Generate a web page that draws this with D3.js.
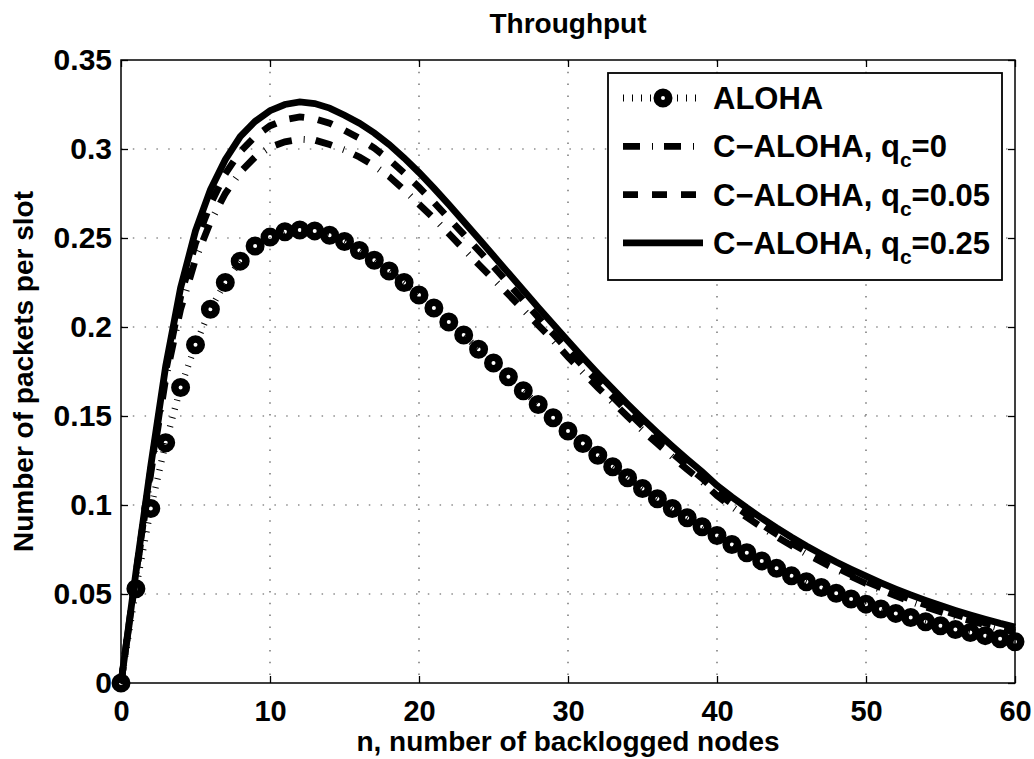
<!DOCTYPE html>
<html>
<head>
<meta charset="utf-8">
<script src="https://cdn.jsdelivr.net/npm/d3@7/dist/d3.min.js"></script>
<style>
  body { margin: 0; background: #fff; }
  text { font-family: "Liberation Sans", Arial, sans-serif; font-weight: bold; fill: #000; }
</style>
</head>
<body>
<div id="chart"></div>
<script>
// n = number of backlogged nodes (0..60)
var nodes = d3.range(0, 61);

// throughput
var aloha = [0, 0.053, 0.098, 0.135, 0.166, 0.190, 0.210, 0.225, 0.237, 0.2455, 0.2505,
  0.2535, 0.2545, 0.254, 0.2515, 0.248, 0.243, 0.2375, 0.2315, 0.225, 0.218,
  0.2107, 0.2028, 0.1955, 0.1875, 0.1798, 0.172, 0.1642, 0.1565, 0.149, 0.1416,
  0.1346, 0.128, 0.1215, 0.1153, 0.1093, 0.1035, 0.098, 0.0928, 0.0878, 0.0829,
  0.0778, 0.0732, 0.0686, 0.0644, 0.0602, 0.0569, 0.0537, 0.0504, 0.0472, 0.0443,
  0.0416, 0.0391, 0.0368, 0.0344, 0.0322, 0.0301, 0.0284, 0.0266, 0.0248, 0.0232];

var caloha0 = [0, 0.060, 0.118, 0.171, 0.210, 0.238, 0.259, 0.275, 0.287, 0.2955, 0.301,
  0.304, 0.3055, 0.305, 0.3025, 0.2995, 0.2955, 0.2905, 0.2845, 0.277, 0.269,
  0.261, 0.2525, 0.2437, 0.2352, 0.2268, 0.2183, 0.2097, 0.2011, 0.1925, 0.1832,
  0.1745, 0.166, 0.1578, 0.1497, 0.1419, 0.1344, 0.1271, 0.120, 0.1132, 0.1052,
  0.099, 0.0931, 0.0875, 0.0822, 0.0772, 0.0725, 0.0681, 0.0638, 0.0598, 0.0559,
  0.0524, 0.049, 0.0458, 0.0428, 0.040, 0.0374, 0.035, 0.0327, 0.0305, 0.0285];

var caloha005 = [0, 0.061, 0.120, 0.175, 0.217, 0.247, 0.269, 0.286, 0.2985, 0.307, 0.313,
  0.3165, 0.318, 0.317, 0.3145, 0.3105, 0.306, 0.3005, 0.294, 0.2865, 0.2785,
  0.270, 0.261, 0.252, 0.243, 0.234, 0.2245, 0.215, 0.2055, 0.1962, 0.187,
  0.178, 0.1692, 0.1607, 0.1524, 0.1444, 0.1366, 0.1291, 0.1219, 0.115, 0.107,
  0.1007, 0.0947, 0.089, 0.0836, 0.0785, 0.0737, 0.0692, 0.0649, 0.0609, 0.0571,
  0.0535, 0.0501, 0.0469, 0.0439, 0.0411, 0.0385, 0.036, 0.0337, 0.0315, 0.0295];

var caloha025 = [0, 0.062, 0.122, 0.178, 0.222, 0.254, 0.277, 0.294, 0.307, 0.3155, 0.3215,
  0.325, 0.3265, 0.3255, 0.323, 0.319, 0.3145, 0.309, 0.3025, 0.295, 0.2868,
  0.278, 0.2688, 0.2593, 0.2497, 0.240, 0.2303, 0.2206, 0.211, 0.2015, 0.1921,
  0.1829, 0.1739, 0.1652, 0.1567, 0.1485, 0.1406, 0.133, 0.1257, 0.1187, 0.111,
  0.1045, 0.0984, 0.0926, 0.0871, 0.0819, 0.077, 0.0724, 0.068, 0.0639, 0.060,
  0.0563, 0.0528, 0.0495, 0.0464, 0.0435, 0.0408, 0.0382, 0.0358, 0.0335, 0.0314];

var xTicks = [0, 10, 20, 30, 40, 50, 60];
var yTicks = [0, 0.05, 0.1, 0.15, 0.2, 0.25, 0.3, 0.35];
var legendLabels = [
  { main: "ALOHA", sub: null, tail: null },
  { main: "C\u2212ALOHA, q", sub: "c", tail: "=0" },
  { main: "C\u2212ALOHA, q", sub: "c", tail: "=0.05" },
  { main: "C\u2212ALOHA, q", sub: "c", tail: "=0.25" }
];

var margin = { top: 60, right: 19, bottom: 76, left: 121 };
var totalW = 1034, totalH = 759;
var width = totalW - margin.left - margin.right;
var height = totalH - margin.top - margin.bottom;

var svg = d3.select("#chart")
  .append("svg")
  .attr("width", totalW)
  .attr("height", totalH);

var g = svg.append("g")
  .attr("transform", "translate(" + margin.left + "," + margin.top + ")");

var xScale = d3.scaleLinear().domain([0, 60]).range([0, width]);
var yScale = d3.scaleLinear().domain([0, 0.35]).range([height, 0]);

// dotted grid
g.append("g").selectAll("line.vgrid")
  .data(xTicks.slice(1, -1))
  .enter().append("line")
  .attr("x1", function(d) { return xScale(d); })
  .attr("x2", function(d) { return xScale(d); })
  .attr("y1", 0).attr("y2", height)
  .attr("stroke", "#555").attr("stroke-width", 1.2)
  .attr("stroke-dasharray", "1.5,10.3");

g.append("g").selectAll("line.hgrid")
  .data(yTicks.slice(1, -1))
  .enter().append("line")
  .attr("y1", function(d) { return yScale(d); })
  .attr("y2", function(d) { return yScale(d); })
  .attr("x1", 0).attr("x2", width)
  .attr("stroke", "#555").attr("stroke-width", 1.2)
  .attr("stroke-dasharray", "1.5,10.3");

// axes, ticks pointing inward
var fmtY = function(d) { return String(+d.toFixed(2)); };

var xAxis = d3.axisBottom(xScale).tickValues(xTicks).tickSize(-7).tickSizeOuter(0).tickPadding(17);
var yAxis = d3.axisLeft(yScale).tickValues(yTicks).tickSize(-7).tickSizeOuter(0).tickPadding(9).tickFormat(fmtY);

var gx = g.append("g").attr("transform", "translate(0," + height + ")").call(xAxis);
var gy = g.append("g").call(yAxis);
g.append("g").call(d3.axisTop(xScale).tickValues(xTicks).tickSize(-7).tickSizeOuter(0).tickFormat(""));
g.append("g").attr("transform", "translate(" + width + ",0)")
  .call(d3.axisRight(yScale).tickValues(yTicks).tickSize(-7).tickSizeOuter(0).tickFormat(""));

g.selectAll(".domain").remove();
g.selectAll(".tick line").attr("stroke", "#000").attr("stroke-width", 1.3);
gx.selectAll("text").style("font-size", "29px");
gy.selectAll("text").style("font-size", "30px");

g.append("rect")
  .attr("x", 0).attr("y", 0)
  .attr("width", width).attr("height", height)
  .attr("fill", "none").attr("stroke", "#000").attr("stroke-width", 1.5);

// series
var line = d3.line()
  .x(function(d, i) { return xScale(nodes[i]); })
  .y(function(d) { return yScale(d); });

var series = [
  { values: caloha0, dash: "17,12,1,11" },
  { values: caloha005, dash: "15,14" },
  { values: caloha025, dash: null }
];

g.selectAll("path.series")
  .data(series)
  .enter().append("path")
  .attr("class", "series")
  .attr("d", function(d) { return line(d.values); })
  .attr("fill", "none")
  .attr("stroke", "#000")
  .attr("stroke-width", 6.8)
  .attr("stroke-dasharray", function(d) { return d.dash; });

g.append("path")
  .attr("d", line(aloha))
  .attr("fill", "none")
  .attr("stroke", "#000")
  .attr("stroke-width", 6.5)
  .attr("stroke-dasharray", "1,8");

g.append("g").selectAll("circle")
  .data(aloha)
  .enter().append("circle")
  .attr("cx", function(d, i) { return xScale(nodes[i]); })
  .attr("cy", function(d) { return yScale(d); })
  .attr("r", 5.75)
  .attr("fill", "none")
  .attr("stroke", "#000")
  .attr("stroke-width", 7.5);

// title and axis labels
svg.append("text")
  .attr("x", margin.left + width / 2).attr("y", 33)
  .attr("text-anchor", "middle").style("font-size", "28px")
  .text("Throughput");

svg.append("text")
  .attr("x", margin.left + width / 2).attr("y", 751)
  .attr("text-anchor", "middle").style("font-size", "28px")
  .text("n, number of backlogged nodes");

svg.append("text")
  .attr("transform", "translate(33," + (margin.top + height / 2) + ") rotate(-90)")
  .attr("text-anchor", "middle").style("font-size", "28px")
  .text("Number of packets per slot");

// legend
var legend = svg.append("g").attr("transform", "translate(608,73)");
legend.append("rect")
  .attr("width", 394).attr("height", 207)
  .attr("fill", "#fff").attr("stroke", "#000").attr("stroke-width", 1.8);

var rowY = function(i) { return 25 + i * 48.3; };
var legendStyles = [
  { dash: "1,8", marker: true },
  { dash: "17,12,1,11", marker: false },
  { dash: "15,14", marker: false },
  { dash: null, marker: false }
];

legendStyles.forEach(function(s, i) {
  legend.append("line")
    .attr("x1", 15).attr("x2", 95)
    .attr("y1", rowY(i)).attr("y2", rowY(i))
    .attr("stroke", "#000").attr("stroke-width", 6.8)
    .attr("stroke-dasharray", s.dash);
  if (s.marker) {
    legend.append("circle")
      .attr("cx", 55).attr("cy", rowY(i)).attr("r", 5.75)
      .attr("fill", "none").attr("stroke", "#000").attr("stroke-width", 7.5);
  }
  var t = legend.append("text")
    .attr("x", 105).attr("y", rowY(i) + 11)
    .style("font-size", "31px");
  var lab = legendLabels[i];
  t.append("tspan").text(lab.main);
  if (lab.sub) {
    t.append("tspan").attr("dy", 10).style("font-size", "21px").text(lab.sub);
    t.append("tspan").attr("dy", -10).text(lab.tail);
  }
});
</script>
</body>
</html>
